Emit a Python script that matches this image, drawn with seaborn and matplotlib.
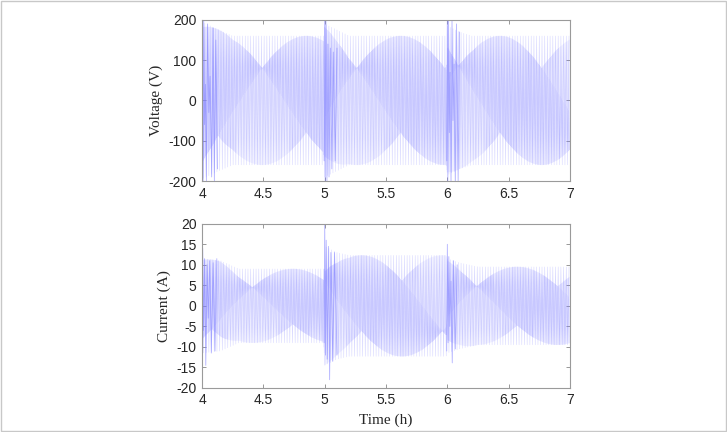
import numpy as np
import pandas as pd
import seaborn as sns
import matplotlib
matplotlib.use("Agg")
import matplotlib.pyplot as plt
from matplotlib.patches import Rectangle

# ---- values ----
seg_edges = [4.0, 5.0, 6.0, 7.0]

# voltage envelope (amplitude knots, V)
volt_amp_t = [4.0, 4.1, 4.25, 4.99, 5.0, 5.1, 5.2, 5.99, 6.0, 6.1, 6.2, 7.0]
volt_amp_v = [195, 180, 160, 160, 190, 175, 160, 160, 185, 170, 160, 160]
# time where the slow pattern tops out in each segment, and spacing between tops
volt_peak_t = [4.85, 5.62, 6.43]
volt_spacing = [0.72, 0.72, 0.68]
# switching transients (one group per switching event)
volt_spike_g = [0] * 15 + [1] * 12 + [2] * 14
volt_spike_t = [4.0, 4.004, 4.008, 4.013, 4.02, 4.027, 4.035, 4.045, 4.055, 4.065,
                4.078, 4.09, 4.1, 4.112, 4.125,
                4.995, 5.0, 5.004, 5.01, 5.018, 5.026, 5.035, 5.046, 5.058, 5.07, 5.085, 5.1,
                5.995, 6.0, 6.004, 6.01, 6.016, 6.022, 6.03, 6.038, 6.046, 6.055, 6.065,
                6.075, 6.088, 6.1]
volt_spike_v = [-180, 210, -210, 210, -60, 40, -200, 190, -30, 60, -190, 180, -200, 150, -170,
                -150, 215, -215, 200, -200, 140, -190, 130, -170, 120, -150, 130,
                -150, 215, -205, 210, -80, 70, -210, 200, -50, 90, -215, 190, -200, 170]

# current envelope (amplitude knots, A)
curr_amp_t = [4.0, 4.15, 4.3, 4.99, 5.0, 5.1, 5.2, 5.99, 6.0, 6.1, 6.25, 7.0]
curr_amp_v = [11.5, 11.0, 9.0, 9.0, 14.5, 13.0, 12.3, 12.3, 11.5, 10.5, 9.5, 9.5]
curr_peak_t = [4.74, 5.30, 6.57]
curr_spacing = [0.66, 0.66, 0.66]
curr_spike_g = [0] * 12 + [1] * 11 + [2] * 10
curr_spike_t = [4.0, 4.005, 4.012, 4.02, 4.03, 4.04, 4.05, 4.062, 4.075, 4.09, 4.105, 4.12,
                4.995, 5.0, 5.006, 5.012, 5.02, 5.03, 5.04, 5.05, 5.065, 5.08, 5.1,
                5.995, 6.0, 6.006, 6.012, 6.02, 6.03, 6.04, 6.05, 6.065, 6.08]
curr_spike_v = [-8, 14, -6, 11.5, -14.5, 10, -3, 11, -11.5, 10.5, -11, 11.5,
                -9, 20.5, -12, 16, -13, 14.5, -18, 13, -13.5, 13, -12,
                -11, 15, -9, 12, -5, 6, -13.9, 11, -10.5, 10]

volt_ticks = [-200, -100, 0, 100, 200]
curr_ticks = [-20, -15, -10, -5, 0, 5, 10, 15, 20]
time_ticks = [4, 4.5, 5, 5.5, 6, 6.5, 7]


def build_layers(amp_t, amp_v, peak_t, spacing):
    # dense aliased samples (three interleaved phases), a pair layer and full-band strokes
    t = np.arange(4.0, 7.0, 0.0025)
    seg = np.clip(np.searchsorted(seg_edges, t, side="right") - 1, 0, 2)
    amp = np.interp(t, amp_t, amp_v)
    k = np.arange(len(t))
    tp = np.array(peak_t)[seg]
    T = 3 * np.array(spacing)[seg]
    ph = 2 * np.pi * (t - tp) / T
    y = amp * np.cos(ph + 2 * np.pi * (k % 3) / 3)
    dense = pd.DataFrame({"t": t, "y": y})

    tq = t[::2]
    kq = np.arange(len(tq))
    yq = np.where(kq % 2 == 0,
                  amp[::2] * np.cos(ph[::2]),
                  amp[::2] * np.cos(ph[::2] + 2 * np.pi / 3))
    pair = pd.DataFrame({"t": tq, "y": yq})

    t2 = np.arange(4.0, 7.0, 0.011)
    a2 = np.interp(t2, amp_t, amp_v)
    y2 = a2 * np.where(np.arange(len(t2)) % 2 == 0, 1.0, -1.0)
    band = pd.DataFrame({"t": t2, "y": y2})
    return dense, pair, band


sns.set_style("ticks")
plt.rcParams["font.family"] = ["Liberation Sans", "DejaVu Sans"]
plt.rcParams["axes.unicode_minus"] = False

fig = plt.figure(figsize=(7.27, 4.32), dpi=100)
fig.patches.append(Rectangle((0.002, 0.003), 0.996, 0.994, transform=fig.transFigure,
                             fill=False, edgecolor="#c8c8c8", linewidth=1.0))

ax1 = fig.add_axes([0.278, 0.581, 0.506, 0.373])
ax2 = fig.add_axes([0.278, 0.102, 0.506, 0.380])

line_col = "#8080ff"
panels = [
    (ax1, volt_amp_t, volt_amp_v, volt_peak_t, volt_spacing,
     volt_spike_g, volt_spike_t, volt_spike_v, (-200, 200), volt_ticks, "Voltage (V)"),
    (ax2, curr_amp_t, curr_amp_v, curr_peak_t, curr_spacing,
     curr_spike_g, curr_spike_t, curr_spike_v, (-20, 20), curr_ticks, "Current (A)"),
]

for ax, at, av, pt, sp, sg, st, sv, ylim, yticks, ylab in panels:
    dense, pair, band = build_layers(at, av, pt, sp)
    sns.lineplot(data=band, x="t", y="y", ax=ax, sort=False, estimator=None,
                 color=line_col, linewidth=0.4, alpha=0.3)
    sns.lineplot(data=dense, x="t", y="y", ax=ax, sort=False, estimator=None,
                 color=line_col, linewidth=0.35, alpha=0.2)
    sns.lineplot(data=pair, x="t", y="y", ax=ax, sort=False, estimator=None,
                 color=line_col, linewidth=0.35, alpha=0.18)
    spikes = pd.DataFrame({"g": sg, "t": st, "y": sv})
    sns.lineplot(data=spikes, x="t", y="y", units="g", ax=ax, sort=False, estimator=None,
                 color=line_col, linewidth=0.6, alpha=0.6)
    ax.set_xlim(4, 7)
    ax.set_ylim(*ylim)
    ax.set_xticks(time_ticks)
    ax.set_xticklabels([f"{v:g}" for v in time_ticks])
    ax.set_yticks(yticks)
    ax.tick_params(direction="in", length=3, width=0.6, color="#888888",
                   labelsize=10, top=True, right=True, pad=4)
    for s in ax.spines.values():
        s.set_color("#9a9a9a")
        s.set_linewidth(0.8)
    ax.set_xlabel("")
    ax.set_ylabel(ylab, family="Liberation Serif", fontsize=11, labelpad=4)

ax2.set_xlabel("Time (h)", family="Liberation Serif", fontsize=11, labelpad=4)

fig.savefig("out.png", dpi=100)
